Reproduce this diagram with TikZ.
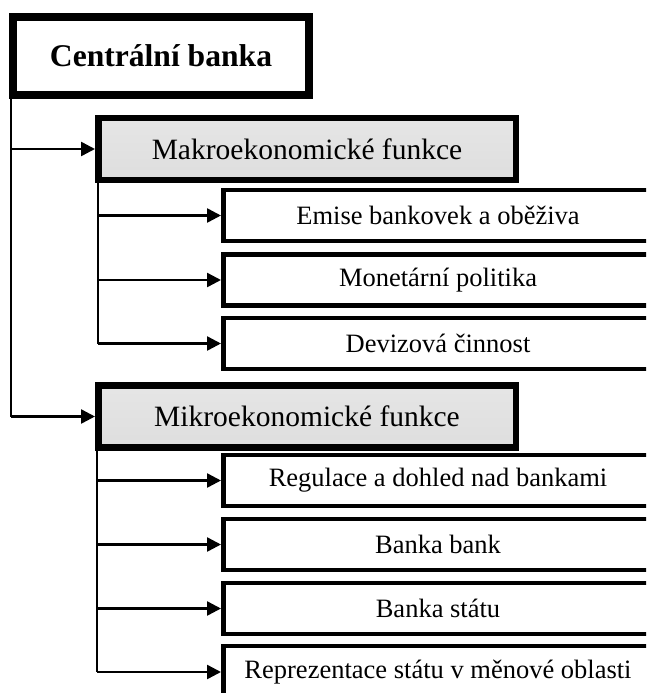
\documentclass[tikz,border=0pt]{standalone}
\usepackage{fontspec}
\setmainfont{Liberation Serif}
\usetikzlibrary{arrows.meta}
\begin{document}
\begin{tikzpicture}[x=1pt,y=-1pt,
  cbox/.style={draw=black, line width=8pt, fill=white, minimum width=296pt, minimum height=78pt, inner sep=0pt,
    font=\fontsize{31.6}{36}\selectfont\bfseries},
  fbox/.style={draw=black, line width=6.5pt, top color=gray!20, bottom color=gray!26,
    minimum width=417.5pt, minimum height=62pt, inner sep=0pt, font=\fontsize{29.5}{34}\selectfont},
  sbox/.style={draw=black, line width=4.5pt, fill=white, minimum width=429.5pt, minimum height=51pt,
    inner sep=0pt, font=\fontsize{26.5}{30}\selectfont},
  conn/.style={line width=2.5pt},
  arr/.style={line width=2.5pt, -{Triangle[length=14pt,width=14pt]}}]
\useasboundingbox (0,0) rectangle (646,693);
\clip (0,0) rectangle (646,693);

\node[cbox] (cb) at (161,56) {Centrální banka};
\node[fbox] (mak) at (307,149) {Makroekonomické funkce};
\node[fbox] (mik) at (307,416.5) {Mikroekonomické funkce};

\node[sbox] (s1) at (438,215.5) {Emise bankovek a oběživa};
\node[sbox] (s2) at (438,280) {Monetární politika};
\node[sbox] (s3) at (438,343.5) {Devizová činnost};

\node[sbox] (t1) at (438,480.5) {Regulace a dohled nad bankami};
\node[sbox] (t2) at (438,544.5) {Banka bank};
\node[sbox] (t3) at (438,608.5) {Banka státu};
\node[sbox, minimum height=52pt] (t4) at (438,672) {Reprezentace státu v měnové oblasti};

\coordinate (v0) at (11,99);
\coordinate (v1) at (98,183);
\coordinate (v2) at (97,451);

% main trunk
\draw[conn] (v0) -- (v0 |- mik.west);
\draw[arr] (v0 |- mak.west) -- (mak.west);
\draw[arr] (v0 |- mik.west) -- (mik.west);

% macro branch
\draw[conn] (v1) -- (v1 |- s3.west);
\draw[arr] (v1 |- s1.west) -- (s1.west);
\draw[arr] (v1 |- s2.west) -- (s2.west);
\draw[arr] (v1 |- s3.west) -- (s3.west);

% micro branch
\draw[conn] (v2) -- (v2 |- t4.west);
\draw[arr] (v2 |- t1.west) -- (t1.west);
\draw[arr] (v2 |- t2.west) -- (t2.west);
\draw[arr] (v2 |- t3.west) -- (t3.west);
\draw[arr] (v2 |- t4.west) -- (t4.west);
\end{tikzpicture}
\end{document}
